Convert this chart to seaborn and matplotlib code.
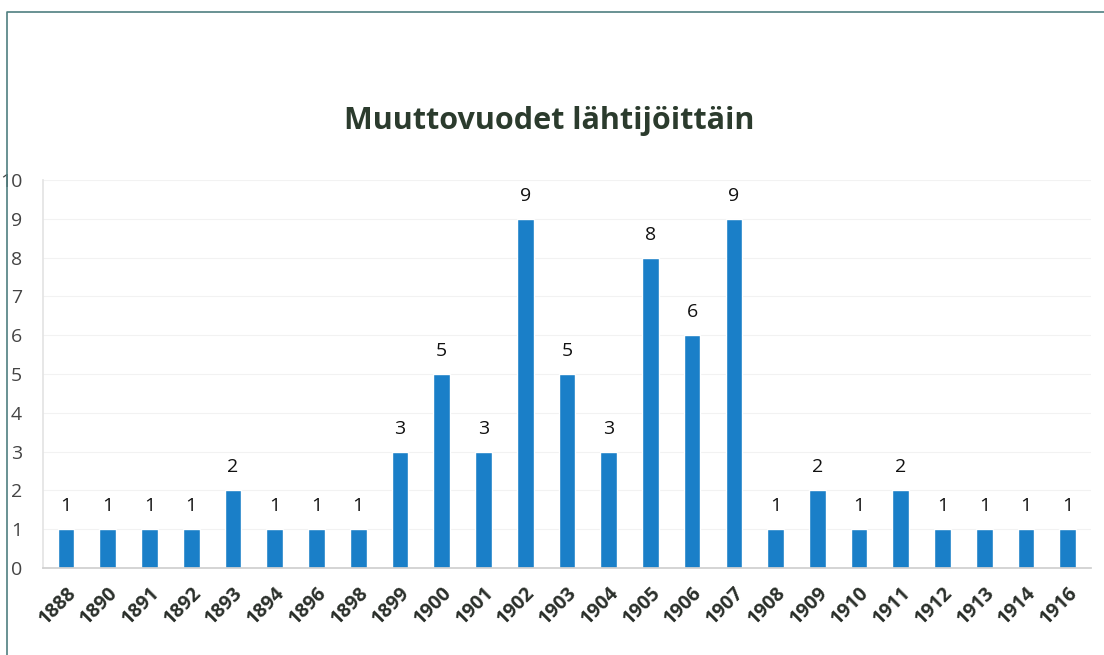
import pandas as pd
import seaborn as sns
import matplotlib.pyplot as plt
from matplotlib.lines import Line2D

# Data
years = ['1888', '1890', '1891', '1892', '1893', '1894', '1896', '1898', '1899', '1900',
         '1901', '1902', '1903', '1904', '1905', '1906', '1907', '1908', '1909', '1910',
         '1911', '1912', '1913', '1914', '1916']
counts = [1, 1, 1, 1, 2, 1, 1, 1, 3, 5, 3, 9, 5, 3, 8, 6, 9, 1, 2, 1, 2, 1, 1, 1, 1]
yticks = list(range(0, 11))

data = pd.DataFrame({'year': years, 'count': counts})

sns.set_theme(style='white')
plt.rcParams['font.family'] = ['Open Sans', 'DejaVu Sans']

fig = plt.figure(figsize=(11.04, 6.55), dpi=100)
ax = fig.add_axes([0.039, 0.133, 0.949, 0.592])

sns.barplot(data=data, x='year', y='count', color='#1a7fc8', saturation=1, width=0.4, ax=ax)

# Value labels above each bar
for p in ax.patches:
    ax.annotate(f'{int(p.get_height())}', (p.get_x() + p.get_width() / 2., p.get_height()),
                ha='center', va='bottom', xytext=(0, 10), textcoords='offset points',
                fontsize=14, color='#111111')

ax.set_xlim(-0.55, len(years) - 0.45)
ax.set_ylim(0, 10)
ax.set_yticks(yticks)
ax.set_yticklabels([str(t) for t in yticks], fontsize=14, color='#444444')
ax.tick_params(axis='y', length=0, pad=15)
ax.set_xticks(range(len(years)))
ax.set_xticklabels(years, rotation=45, ha='right', rotation_mode='anchor',
                   fontsize=14, fontweight='bold', color='#2a2f2a')
ax.tick_params(axis='x', length=0, pad=11)
ax.grid(axis='y', color='#f2f2f2', linewidth=0.8)
ax.set_axisbelow(True)
for s in ['top', 'right']:
    ax.spines[s].set_visible(False)
ax.spines['left'].set_color('#e4e4e4')
ax.spines['bottom'].set_color('#cfcfcf')
ax.set_xlabel('')
ax.set_ylabel('')

fig.text(0.497, 0.815, 'Muuttovuodet lähtijöittäin', ha='center', va='center',
         fontsize=22, fontweight='bold', color='#2b3b2d')

# Outer frame (left and top edges visible in the scan)
fig.add_artist(Line2D([0.0065, 0.0065, 1.0], [0.0, 0.982, 0.982], transform=fig.transFigure,
                      color='#4f7f80', linewidth=1.2))

fig.savefig('out.png', dpi=100)
